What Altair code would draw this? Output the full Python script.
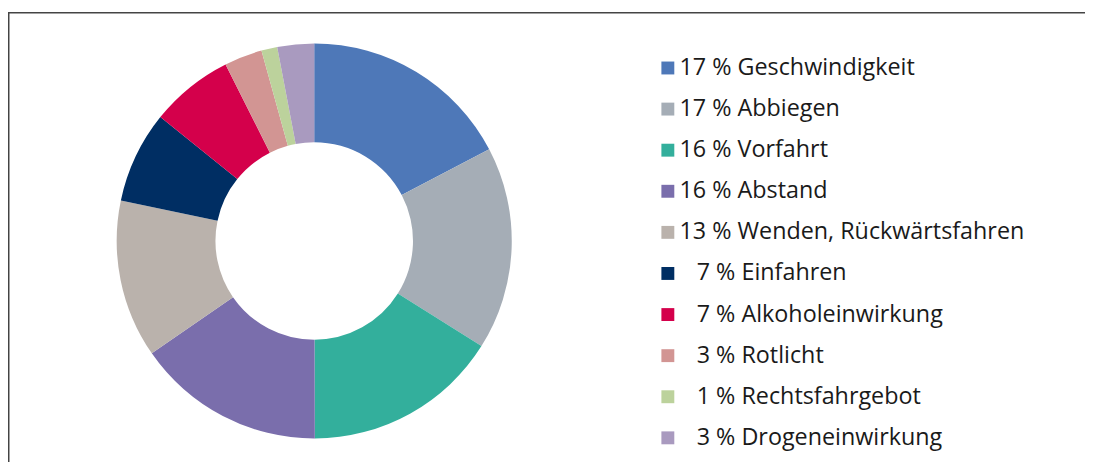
import altair as alt
import pandas as pd

PAD = "\u200b\u2007\u2006"
labels = [
    "17 % Geschwindigkeit",
    "17 % Abbiegen",
    "16 % Vorfahrt",
    "16 % Abstand",
    "13 % Wenden, Rückwärtsfahren",
    PAD + "7 % Einfahren",
    PAD + "7 % Alkoholeinwirkung",
    PAD + "3 % Rotlicht",
    PAD + "1 % Rechtsfahrgebot",
    PAD + "3 % Drogeneinwirkung",
]
values = [17.3, 16.6, 16.0, 15.4, 12.9, 7.5, 6.8, 3.1, 1.3, 3.0]
colors = ["#4E78B8", "#A5ADB6", "#33AF9C", "#7A6EAC", "#BAB2AC",
          "#002E63", "#D4004B", "#D29593", "#BCD29C", "#A99ABF"]

df = pd.DataFrame({"label": labels, "value": values, "idx": list(range(len(labels)))})

W, H = 1085, 454

donut = alt.Chart(df).mark_arc(outerRadius=199, innerRadius=99.5).encode(
    theta=alt.Theta("value:Q", stack=True),
    order=alt.Order("idx:Q"),
    color=alt.Color(
        "label:N",
        scale=alt.Scale(domain=labels, range=colors),
        legend=alt.Legend(
            title=None,
            orient="none",
            legendX=653,
            legendY=47,
            symbolType="square",
            symbolSize=169,
            symbolStrokeWidth=0,
            labelFont="Open Sans",
            labelFontSize=23.5,
            labelColor="#1a1a1a",
            labelOffset=0,
            rowPadding=16.4,
            labelLimit=450,
        ),
    ),
    x=alt.value(308.5),
    y=alt.value(233),
)

border = alt.Chart(pd.DataFrame({"a": [0]})).mark_rect(
    fill=None, stroke="#444444", strokeWidth=1.5
).encode(
    x=alt.value(0.75), x2=alt.value(W + 20),
    y=alt.value(3), y2=alt.value(H + 20),
)

chart = alt.layer(border, donut).properties(
    width=W, height=H,
    autosize=alt.AutoSizeParams(type="none"),
    padding={"left": 0, "top": 0, "right": 0, "bottom": 0},
).configure_view(stroke=None)

chart.save("out.html", embed_options={"renderer": "svg", "actions": False})
